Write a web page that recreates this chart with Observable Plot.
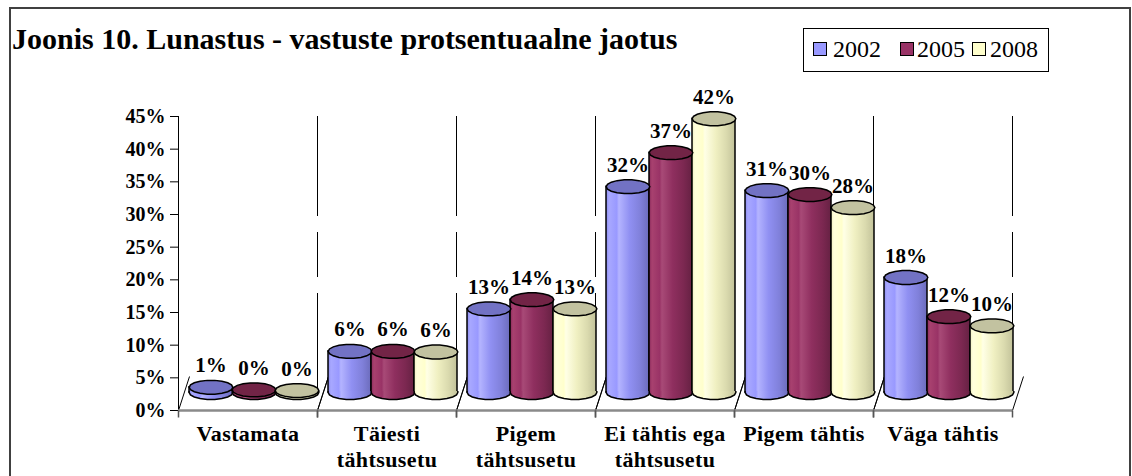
<!DOCTYPE html>
<html>
<head>
<meta charset="utf-8">
<script src="https://cdn.jsdelivr.net/npm/d3@7"></script>
<script src="https://cdn.jsdelivr.net/npm/@observablehq/plot@0.6"></script>
<style>
  body { margin: 0; background: #fff; }
  #wrap { position: relative; width: 1132px; height: 476px; overflow: hidden; font-family: 'Liberation Serif', serif; color: #000; }
  #frame { position: absolute; left: 9px; top: 7px; width: 1122px; height: 500px; border: 2px solid #404040; box-sizing: border-box; }
  #title { position: absolute; left: 12px; top: 24px; font-family: 'Liberation Serif', serif; font-size: 30px; line-height: 30px; font-weight: bold; white-space: nowrap; }
  #legend { position: absolute; left: 803px; top: 28px; width: 246px; height: 44px; border: 1.5px solid #000; box-sizing: border-box; background: #fff; font-family: 'Liberation Serif', serif; }
  .sw { position: absolute; width: 14px; height: 14px; border: 1.5px solid #000; box-sizing: border-box; top: 13px; }
  .lt { position: absolute; top: 8px; font-size: 24px; line-height: 24px; white-space: nowrap; font-weight: normal; }
  #chart { position: absolute; left: 0; top: 0; }
</style>
</head>
<body>
<div id="wrap">
  <div id="frame"></div>
  <div id="chart"></div>
  <div id="title"></div>
  <div id="legend"></div>
</div>
<script>
// ---- data ----
const titleText = "Joonis 10. Lunastus - vastuste protsentuaalne jaotus";
const categories = ["Vastamata", "Täiesti tähtsusetu", "Pigem tähtsusetu", "Ei tähtis ega tähtsusetu", "Pigem tähtis", "Väga tähtis"];
const categoryLabels = ["Vastamata", "Täiesti\ntähtsusetu", "Pigem\ntähtsusetu", "Ei tähtis ega\ntähtsusetu", "Pigem tähtis", "Väga tähtis"];
const years = ["2002", "2005", "2008"];
const values2002 = [0.8, 6.3, 12.8, 31.5, 30.9, 17.6];
const values2005 = [0.4, 6.3, 14.2, 36.7, 30.3, 11.6];
const values2008 = [0.3, 6.2, 12.8, 41.9, 28.3, 10.2];
const yTicks = [0, 5, 10, 15, 20, 25, 30, 35, 40, 45];
const legendColors = ["#9999FF", "#993366", "#FFFFCC"];
const capColors = ["#7272c4", "#722446", "#c2c2a0"];
const sideStops = [
  ["#8a8aee", "#a8a8ff", "#9999ff", "#b4b4ff", "#9090f2", "#8080da", "#6c6cbc"],
  ["#88295a", "#a8416f", "#993366", "#a84a77", "#8f2f5f", "#7c2851", "#662143"],
  ["#efefbe", "#ffffdc", "#ffffcc", "#ffffe6", "#f0f0c2", "#dadaae", "#c2c29a"]
];
const stopOffsets = [0, 0.07, 0.25, 0.3, 0.55, 0.8, 1];

const seriesValues = [values2002, values2005, values2008];
const rows = categories.flatMap((c, i) => years.map((y, j) => ({cat: c, year: y, yi: j, value: seriesValues[j][i]})));

// ---- layout ----
const FONT = "Liberation Serif";
const W = 1132, H = 476;
const mL = 178, mR = 120, mT = 116, mB = 66;
const facetW = (W - mL - mR) / categories.length;
const padOuter = 0.092;
const bw = facetW / (years.length + 2 * padOuter);
const rx = bw / 2, ry = 7;
const DX = 6, DY = -18;

function ellipsePts(n, t0, t1) {
  const pts = [];
  for (let k = 0; k <= n; k++) {
    const t = t0 + (t1 - t0) * k / n;
    pts.push([rx * Math.cos(t), ry * Math.sin(t)]);
  }
  return pts;
}
const capSymbol = {draw(ctx) {
  const p = ellipsePts(18, 0, 2 * Math.PI);
  ctx.moveTo(p[0][0], p[0][1]);
  for (let k = 1; k < p.length; k++) ctx.lineTo(p[k][0], p[k][1]);
  ctx.closePath();
}};
const bottomSymbol = {draw(ctx) {
  const p = ellipsePts(9, 0, Math.PI);
  ctx.moveTo(p[0][0], -1.5);
  for (let k = 0; k < p.length; k++) ctx.lineTo(p[k][0], p[k][1]);
  ctx.lineTo(p[p.length - 1][0], -1.5);
}};
const diagSymbol = {draw(ctx) { ctx.moveTo(0, 0); ctx.lineTo(11, -34); }};
const tickSymbol = {draw(ctx) { ctx.moveTo(0, 0); ctx.lineTo(0, 7); }};

const sideFill = d => `url(#side${d.yi})`;

const chart = Plot.plot({
  width: W, height: H,
  marginLeft: mL, marginRight: mR, marginTop: mT, marginBottom: mB,
  style: {fontFamily: "'Liberation Serif', serif", fontSize: "20px", fontWeight: "bold", color: "#000", background: "transparent", overflow: "visible"},
  fx: {domain: categories, padding: 0, axis: null, label: null},
  x: {domain: years, paddingInner: 0, paddingOuter: padOuter, axis: null, label: null},
  y: {domain: [0, 45], ticks: yTicks, tickFormat: d => d + "%", label: null, tickSize: 8, tickPadding: 5, line: true},
  color: {type: "identity"},
  marks: [
    // back-wall category dividers
    Plot.ruleX([0], {x: null, y1: 45, y2: 0, dx: facetW / 2, insetBottom: 15, stroke: "#000", strokeWidth: 1, strokeDasharray: "100,16,45,16,200"}),
    // floor diagonals
    Plot.dot([0], {x: null, y: 0, frameAnchor: "middle", dx: -facetW / 2, symbol: diagSymbol, fill: "none", stroke: "#000", strokeWidth: 1}),
    Plot.dot([0], {x: null, y: 0, frameAnchor: "middle", dx: facetW / 2, symbol: diagSymbol, fill: "none", stroke: "#000", strokeWidth: 1}),
    // category axis
    Plot.ruleY([0], {stroke: "#8a8a8a", strokeWidth: 2.5}),
    Plot.dot([0], {x: null, y: 0, frameAnchor: "middle", dx: -facetW / 2, symbol: tickSymbol, fill: "none", stroke: "#555", strokeWidth: 1.5}),
    Plot.dot([0], {x: null, y: 0, frameAnchor: "middle", dx: facetW / 2, symbol: tickSymbol, fill: "none", stroke: "#555", strokeWidth: 1.5}),
    // cylinder sides
    Plot.barY(rows, {fx: "cat", x: "year", y1: 0, y2: "value", fill: sideFill, stroke: "#000", strokeWidth: 1.5, dx: DX, dy: DY}),
    // cylinder bottoms
    Plot.dot(rows, {fx: "cat", x: "year", y: 0, symbol: bottomSymbol, fill: sideFill, stroke: "#000", strokeWidth: 1.5, dx: DX, dy: DY}),
    // cylinder caps
    Plot.dot(rows, {fx: "cat", x: "year", y: "value", symbol: capSymbol, fill: d => capColors[d.yi], stroke: "#000", strokeWidth: 1.5, dx: DX, dy: DY}),
    // value labels
    Plot.text(rows, {fx: "cat", x: "year", y: "value", text: d => Math.round(d.value) + "%", dx: DX, dy: DY - 15 - 6.7, fontFamily: FONT, fontSize: 21, fontWeight: "bold", fill: "#000"}),
    // category labels
    Plot.text(categories, {fx: d => d, text: d => categoryLabels[categories.indexOf(d)].split("\n")[0], frameAnchor: "bottom", lineAnchor: "middle", dy: 23, fontFamily: FONT, fontSize: 22, fontWeight: "bold", fill: "#000", className: "catlab"}),
    Plot.text(categories, {fx: d => d, text: d => categoryLabels[categories.indexOf(d)].split("\n")[1] || "", frameAnchor: "bottom", lineAnchor: "middle", dy: 49, fontFamily: FONT, fontSize: 22, fontWeight: "bold", fill: "#000", className: "catlab"})
  ]
});

const svgEl = chart.tagName.toLowerCase() === "svg" ? chart : chart.querySelector("svg");
const svgSel = d3.select(svgEl);
svgSel.attr("font-family", FONT).style("font-family", "'Liberation Serif', serif");
svgSel.selectAll("text").attr("font-family", FONT);
svgSel.selectAll(".catlab text").style("letter-spacing", "0.4px");
// gradients for the cylinder sides
const defs = svgSel.insert("defs", ":first-child");
sideStops.forEach((stops, j) => {
  const g = defs.append("linearGradient").attr("id", `side${j}`).attr("x1", "0").attr("x2", "1").attr("y1", "0").attr("y2", "0");
  stops.forEach((c, k) => g.append("stop").attr("offset", stopOffsets[k]).attr("stop-color", c));
});

document.getElementById("chart").appendChild(chart);
document.getElementById("title").textContent = titleText;

// legend
const legend = document.getElementById("legend");
const swX = [9, 96, 168];
const txX = [29, 113, 186];
years.forEach((y, j) => {
  const s = document.createElement("div");
  s.className = "sw"; s.style.left = swX[j] + "px"; s.style.background = legendColors[j];
  legend.appendChild(s);
  const t = document.createElement("div");
  t.className = "lt"; t.style.left = txX[j] + "px"; t.textContent = y;
  legend.appendChild(t);
});
</script>
</body>
</html>
